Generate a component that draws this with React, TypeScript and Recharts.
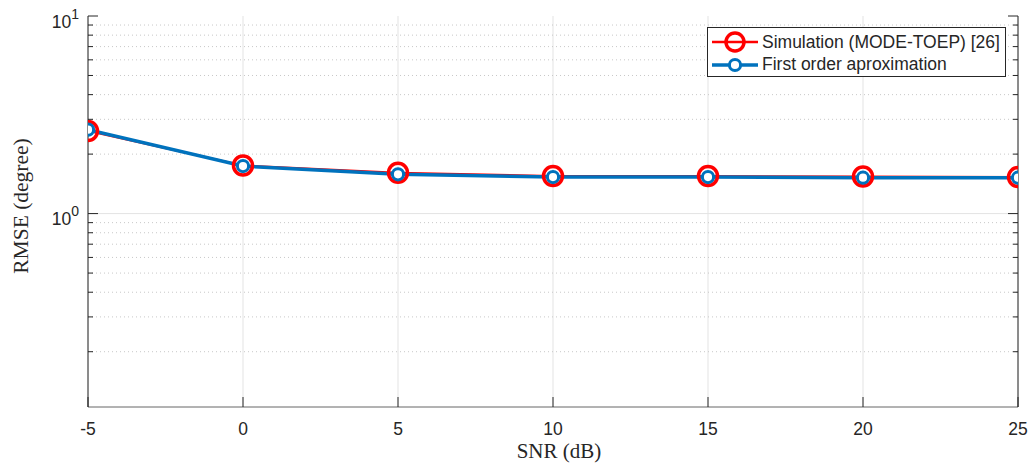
import React from 'react';
import {
  LineChart,
  Line,
  XAxis,
  YAxis,
  CartesianGrid,
  ReferenceLine,
  Legend,
} from 'recharts';

// RMSE versus SNR for the simulated estimator and its first order approximation
const snr = [-5, 0, 5, 10, 15, 20, 25];
const simRmse = [2.62, 1.75, 1.61, 1.55, 1.55, 1.54, 1.53];
const approxRmse = [2.66, 1.74, 1.58, 1.53, 1.53, 1.52, 1.52];

const xTicks = [-5, 0, 5, 10, 15, 20, 25];
const yMajor = [1, 10];
const yMinor = [0.2, 0.3, 0.4, 0.5, 0.6, 0.7, 0.8, 0.9, 2, 3, 4, 5, 6, 7, 8, 9];
const yTicks = [...yMinor, ...yMajor].sort((a, b) => a - b);

const simLabel = 'Simulation (MODE-TOEP) [26]';
const approxLabel = 'First order aproximation';

const RED = '#ff0000';
const BLUE = '#0072bd';
const AXIS = '#262626';
const TICK_FONT = '"Liberation Sans", Arial, sans-serif';
const TITLE_FONT = '"Liberation Serif", "Times New Roman", serif';

const data = snr.map((s, i) => ({ snr: s, sim: simRmse[i], approx: approxRmse[i] }));

const isMajor = (v: number) => yMajor.includes(v);

const LeftTick = (props: any) => {
  const { x, y, payload } = props;
  const v = payload.value;
  const len = isMajor(v) ? 10 : 5;
  return (
    <g>
      <line x1={x} x2={x + len} y1={y} y2={y} stroke={AXIS} strokeWidth={1} />
      {isMajor(v) && (
        <text x={x - 9} y={y + 11.5} textAnchor="end" fontFamily={TICK_FONT} fontSize={17.5} fill={AXIS}>
          <tspan>10</tspan>
          <tspan dy={-9} fontSize={14}>{Math.round(Math.log10(v))}</tspan>
        </text>
      )}
    </g>
  );
};

const RightTick = (props: any) => {
  const { x, y, payload } = props;
  const len = isMajor(payload.value) ? 10 : 5;
  return <line x1={x} x2={x - len} y1={y} y2={y} stroke={AXIS} strokeWidth={1} />;
};

const BottomTick = (props: any) => {
  const { x, y, payload } = props;
  return (
    <g>
      <line x1={x} x2={x} y1={y} y2={y - 10} stroke={AXIS} strokeWidth={1} />
      <text x={x} y={y + 27.5} textAnchor="middle" fontFamily={TICK_FONT} fontSize={17.5} fill={AXIS}>
        {payload.value}
      </text>
    </g>
  );
};

const TopTick = (props: any) => {
  const { x, y } = props;
  return <line x1={x} x2={x} y1={y} y2={y + 10} stroke={AXIS} strokeWidth={1} />;
};

const LegendBox = () => {
  const rows = [
    { label: simLabel, color: RED, r: 9, sw: 3.5, lw: 2.5, fill: 'none' },
    { label: approxLabel, color: BLUE, r: 5.6, sw: 3, lw: 3.5, fill: '#fff' },
  ];
  return (
    <div
      style={{
        border: `1px solid ${AXIS}`,
        background: '#fff',
        width: 299,
        height: 50,
        boxSizing: 'border-box',
        paddingTop: 3,
      }}
    >
      {rows.map((row) => (
        <div key={row.label} style={{ display: 'flex', alignItems: 'center', height: 22.5 }}>
          <svg width={54} height={22} style={{ flex: 'none' }}>
            <line x1={4} x2={50} y1={11} y2={11} stroke={row.color} strokeWidth={row.lw} />
            <circle cx={27} cy={11} r={row.r} fill={row.fill} stroke={row.color} strokeWidth={row.sw} />
          </svg>
          <span style={{ fontFamily: TICK_FONT, fontSize: 17.5, color: AXIS, whiteSpace: 'nowrap' }}>{row.label}</span>
        </div>
      ))}
    </div>
  );
};

const App: React.FC = () => {
  return (
    <div style={{ position: 'absolute', left: 0, top: 0, width: 1030, height: 464, background: '#fff', overflow: 'hidden' }}>
      <LineChart width={1030} height={464} data={data} margin={{ top: 16, right: 0, bottom: 0, left: 0 }}>
        <CartesianGrid horizontal={false} stroke="#e3e3e3" strokeWidth={1} />
        <XAxis
          dataKey="snr"
          type="number"
          domain={[-5, 25]}
          ticks={xTicks}
          height={57}
          tickSize={0}
          tickMargin={0}
          axisLine={{ stroke: '#666', strokeWidth: 1 }}
          tick={<BottomTick />}
          tickLine={false}
          allowDataOverflow
        />
        <XAxis
          xAxisId="top"
          orientation="top"
          dataKey="snr"
          type="number"
          domain={[-5, 25]}
          ticks={xTicks}
          height={0}
          tickSize={0}
          tickMargin={0}
          axisLine={{ stroke: '#666', strokeWidth: 1 }}
          tick={<TopTick />}
          tickLine={false}
          allowDataOverflow
        />
        <YAxis
          scale="log"
          type="number"
          domain={[0.105, 10]}
          ticks={yTicks}
          width={88}
          tickSize={0}
          tickMargin={0}
          axisLine={{ stroke: AXIS, strokeWidth: 1 }}
          tick={<LeftTick />}
          tickLine={false}
          interval={0}
          allowDataOverflow
        />
        <YAxis
          yAxisId="right"
          orientation="right"
          scale="log"
          type="number"
          domain={[0.105, 10]}
          ticks={yTicks}
          width={12}
          tickSize={0}
          tickMargin={0}
          axisLine={{ stroke: AXIS, strokeWidth: 1 }}
          tick={<RightTick />}
          tickLine={false}
          interval={0}
          allowDataOverflow
        />
        {yMinor.map((v) => (
          <ReferenceLine key={v} y={v} stroke="#c8c8c8" strokeWidth={1} strokeDasharray="1 3" />
        ))}
        <ReferenceLine y={1} stroke="#e3e3e3" strokeWidth={1} />
        <Legend
          layout="vertical"
          align="center"
          verticalAlign="middle"
          content={<LegendBox />}
          wrapperStyle={{ left: 707, top: 27, width: 299 }}
        />
        <Line
          dataKey="sim"
          name={simLabel}
          stroke={RED}
          strokeWidth={2}
          dot={{ r: 9.5, stroke: RED, strokeWidth: 3.5, fill: 'none' }}
          isAnimationActive={false}
        />
        <Line
          dataKey="approx"
          name={approxLabel}
          stroke={BLUE}
          strokeWidth={3.5}
          dot={{ r: 5.6, stroke: BLUE, strokeWidth: 3, fill: '#fff' }}
          isAnimationActive={false}
        />
      </LineChart>
      <div
        style={{
          position: 'absolute',
          left: 559,
          top: 440,
          transform: 'translateX(-50%)',
          fontFamily: TITLE_FONT,
          fontSize: 21,
          lineHeight: 1.1,
          color: AXIS,
          whiteSpace: 'nowrap',
        }}
      >
        SNR (dB)
      </div>
      <div
        style={{
          position: 'absolute',
          left: 21,
          top: 206,
          transform: 'translate(-50%, -50%) rotate(-90deg)',
          fontFamily: TITLE_FONT,
          fontSize: 21.5,
          lineHeight: 1.15,
          color: AXIS,
          whiteSpace: 'nowrap',
        }}
      >
        RMSE (degree)
      </div>
    </div>
  );
};

export default App;
